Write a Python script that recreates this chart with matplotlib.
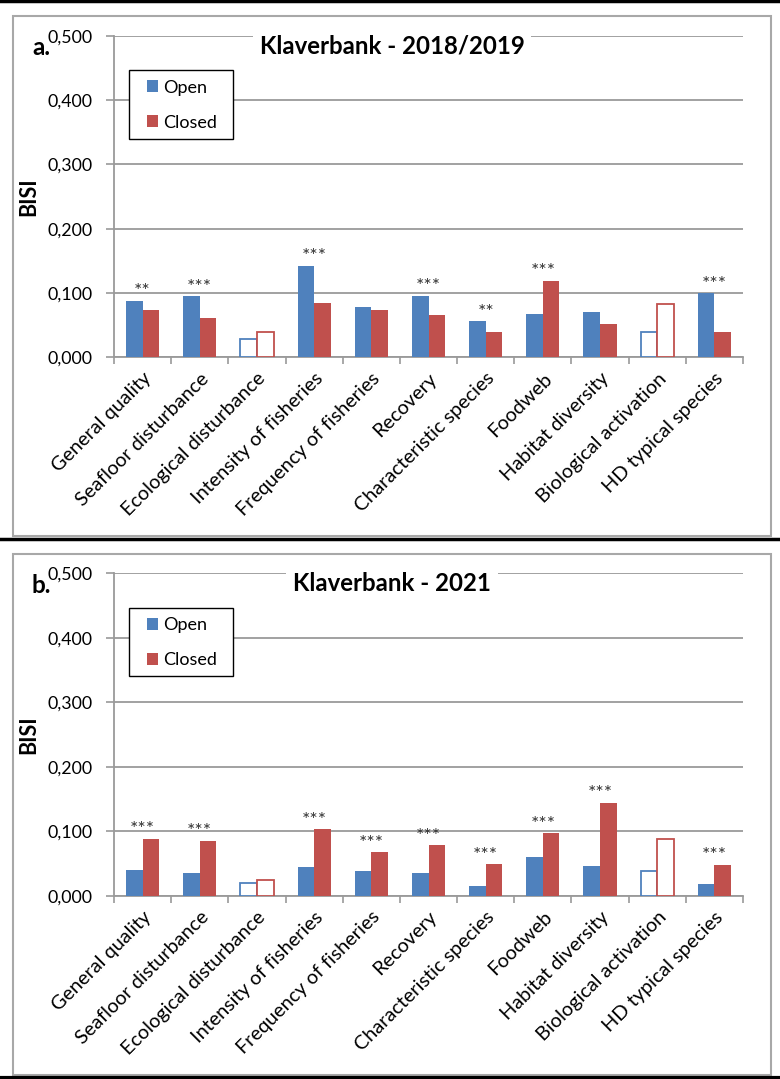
import matplotlib
matplotlib.use("Agg")
import matplotlib.pyplot as plt
from matplotlib.patches import Patch, Rectangle
from matplotlib.lines import Line2D
from matplotlib.ticker import FixedLocator, FuncFormatter

plt.rcParams['font.family'] = ['Lato', 'DejaVu Sans']

categories = ["General quality", "Seafloor disturbance", "Ecological disturbance",
              "Intensity of fisheries", "Frequency of fisheries", "Recovery",
              "Characteristic species", "Foodweb", "Habitat diversity",
              "Biological activation", "HD typical species"]

open_1819 = [0.088, 0.095, 0.028, 0.142, 0.078, 0.096, 0.056, 0.068, 0.070, 0.039, 0.100]
closed_1819 = [0.073, 0.061, 0.040, 0.084, 0.073, 0.066, 0.040, 0.119, 0.052, 0.083, 0.040]
sig_1819 = ["**", "***", "", "***", "", "***", "**", "***", "", "", "***"]

open_2021 = [0.040, 0.035, 0.019, 0.044, 0.039, 0.035, 0.015, 0.060, 0.046, 0.038, 0.018]
closed_2021 = [0.088, 0.085, 0.024, 0.103, 0.067, 0.078, 0.049, 0.097, 0.144, 0.088, 0.048]
sig_2021 = ["***", "***", "", "***", "***", "***", "***", "***", "***", "", "***"]

hollow = [False, False, True, False, False, False, False, False, False, True, False]

yticks = [0.0, 0.1, 0.2, 0.3, 0.4, 0.5]
panel_labels = ["a.", "b."]
titles = ["Klaverbank - 2018/2019", "Klaverbank - 2021"]
series_names = ["Open", "Closed"]

BLUE = "#4F81BD"
RED = "#C0504D"
GRID = "#9a9a9a"

W, H = 780, 1079
fig = plt.figure(figsize=(W / 100, H / 100), dpi=100)


def fx(px):
    return px / W


def fy(py):
    return 1 - py / H


# panel frames and black separator lines
for (top, bot) in [(16, 535.5), (553.5, 1075)]:
    fig.patches.append(Rectangle((fx(13), fy(bot)), fx(771) - fx(13), fy(top) - fy(bot),
                                 transform=fig.transFigure, fill=False,
                                 edgecolor="#a8a8a8", linewidth=1.5, zorder=0))
for yy, lw in [(1, 2.5), (538.5, 2.5), (1077.5, 3)]:
    fig.add_artist(Line2D([0, 1], [fy(yy), fy(yy)], transform=fig.transFigure,
                          color="black", linewidth=lw))

axes_boxes = [(114, 743, 35.7, 357.3), (114, 743, 573.3, 895.7)]
datasets = [(open_1819, closed_1819, sig_1819), (open_2021, closed_2021, sig_2021)]

for i, (box, (op, cl, sig)) in enumerate(zip(axes_boxes, datasets)):
    l, r, t, b = box
    aw, ah = r - l, b - t
    ax = fig.add_axes([fx(l), fy(b), fx(r) - fx(l), fy(t) - fy(b)])
    x = list(range(len(categories)))
    bw = 0.29
    xo = [xi - bw / 2 for xi in x]
    xc = [xi + bw / 2 for xi in x]
    bars_o = ax.bar(xo, op, width=bw, color=BLUE, zorder=3, linewidth=0)
    bars_c = ax.bar(xc, cl, width=bw, color=RED, zorder=3, linewidth=0)
    for j, h in enumerate(hollow):
        if h:
            for bar, col in [(bars_o[j], BLUE), (bars_c[j], RED)]:
                bar.set_facecolor("white")
                bar.set_edgecolor(col)
                bar.set_linewidth(1.3)
    for j, s in enumerate(sig):
        if s:
            ax.annotate(s, (x[j], max(op[j], cl[j])), xytext=(0, 2.5),
                        textcoords="offset points", ha="center", va="baseline",
                        fontsize=14, color="#333333", zorder=4)

    ax.set_xlim(-0.5, len(categories) - 0.5)
    ax.set_ylim(0, 0.5)
    ax.set_yticks(yticks)
    ax.yaxis.set_major_formatter(FuncFormatter(lambda v, p: f"{v:.3f}".replace(".", ",")))
    ax.tick_params(axis="y", length=6, color=GRID, labelsize=12.8, pad=9.5, width=1.2)
    ax.grid(axis="y", color=GRID, linewidth=1.3, zorder=0)
    ax.set_axisbelow(True)

    ax.xaxis.set_major_locator(FixedLocator([k - 0.5 for k in range(len(categories) + 1)]))
    ax.xaxis.set_major_formatter(FuncFormatter(lambda v, p: ""))
    ax.xaxis.set_minor_locator(FixedLocator(x))
    ax.set_xticklabels(categories, minor=True, rotation=45, ha="right",
                       rotation_mode="anchor", fontsize=14.3)
    ax.tick_params(axis="x", which="major", length=5, color=GRID, width=1.2)
    ax.tick_params(axis="x", which="minor", length=0, pad=9)

    for side in ["top", "right"]:
        ax.spines[side].set_visible(False)
    for side in ["left", "bottom"]:
        ax.spines[side].set_color(GRID)
        ax.spines[side].set_linewidth(1.3)

    ax.set_ylabel("BISI", fontsize=15.5, fontweight="bold")
    ax.yaxis.set_label_coords(-(l - 39) / aw, (b - (t + 161)) / ah)

    ax.text(0.442, 0.968, titles[i], transform=ax.transAxes, ha="center", va="center",
            fontsize=17.3, fontweight="bold",
            bbox=dict(facecolor="white", edgecolor="none", pad=5), zorder=5)

    fig.text(fx(41), fy(t + 12), panel_labels[i], ha="center", va="center",
             fontsize=17.5, fontweight="bold")

    # legend: white framed box plus frameless legend entries
    box_l, box_r, box_t, box_b = 128.7, 233.3, t + 34.3, t + 103
    ax.add_patch(Rectangle(((box_l - l) / aw, (b - box_b) / ah),
                           (box_r - box_l) / aw, (box_b - box_t) / ah,
                           transform=ax.transAxes, facecolor="white",
                           edgecolor="black", linewidth=1.0, zorder=6))
    handles = [Patch(facecolor=BLUE), Patch(facecolor=RED)]
    leg = ax.legend(handles, series_names, loc="upper left",
                    bbox_to_anchor=((146.5 - l) / aw, (b - (t + 44)) / ah),
                    borderaxespad=0, borderpad=0, frameon=False,
                    fontsize=13, handlelength=0.62, handleheight=0.62, handletextpad=0.3,
                    labelspacing=1.05)
    leg.set_zorder(7)

fig.savefig("out.png", dpi=100)
